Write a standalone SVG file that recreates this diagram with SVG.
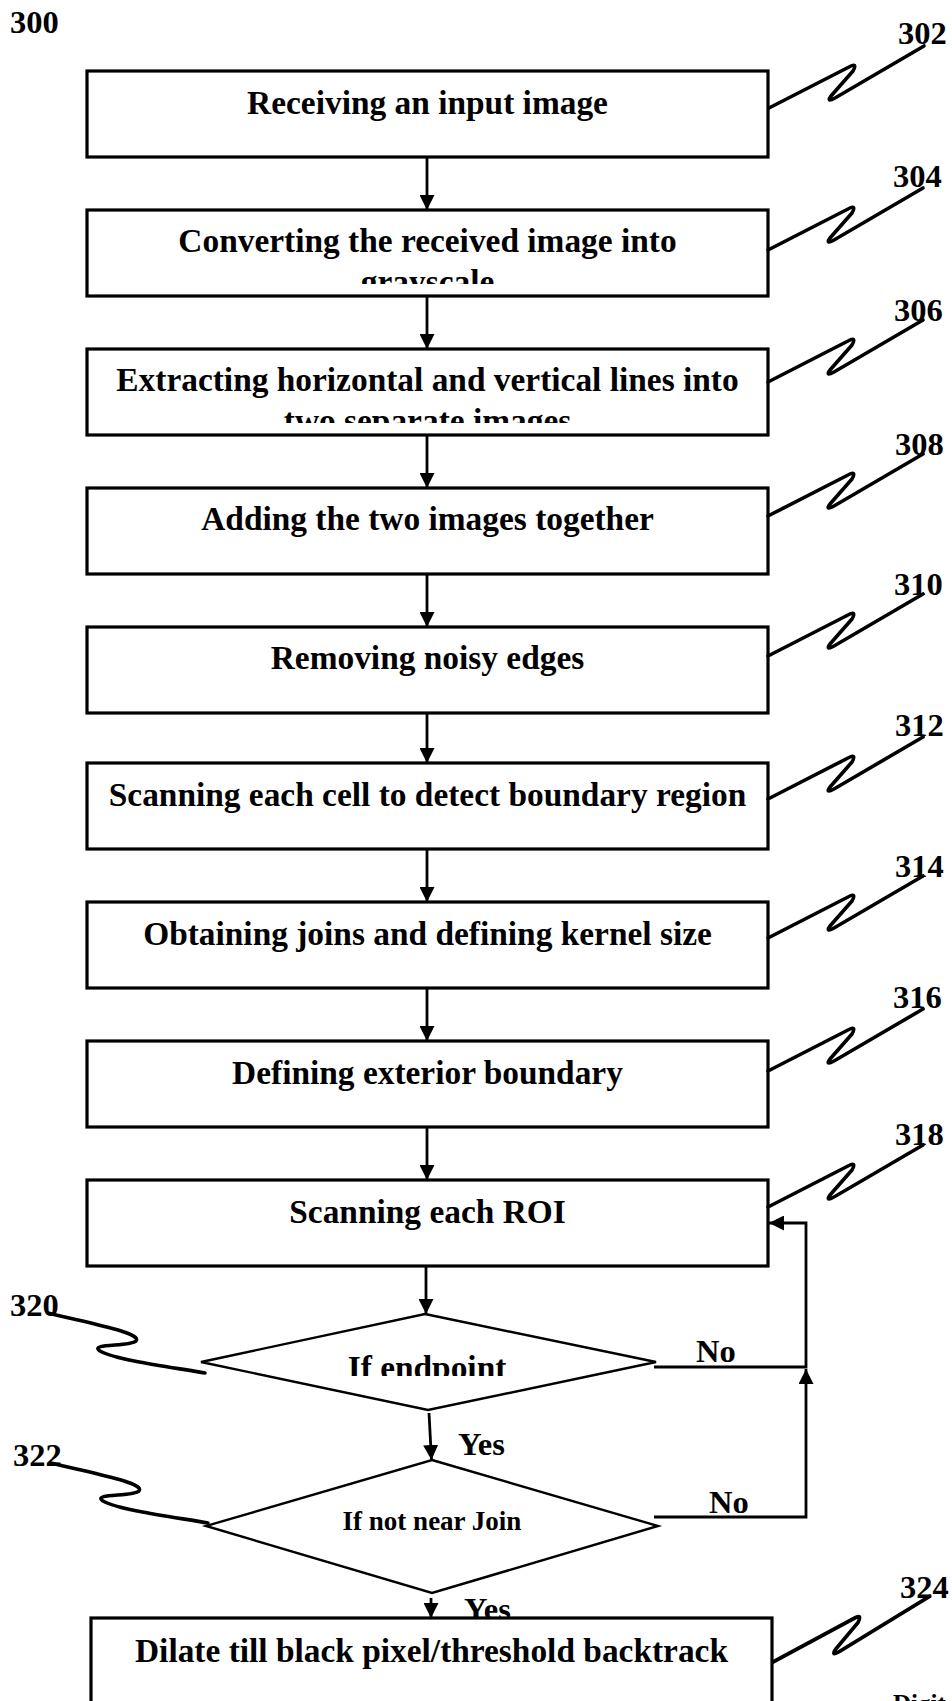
<svg xmlns="http://www.w3.org/2000/svg" width="952" height="1701" viewBox="0 0 952 1701">
<style>
.box{fill:#fff;stroke:#000;stroke-width:3.2}
.dia{fill:#fff;stroke:#000;stroke-width:2.4}
.t{font-family:"Liberation Serif","Times New Roman",serif;font-weight:bold;font-size:33.4px;fill:#000;text-anchor:middle}
.s{font-family:"Liberation Serif","Times New Roman",serif;font-weight:bold;font-size:27px;fill:#000;text-anchor:middle}
.lbl{font-family:"Liberation Serif","Times New Roman",serif;font-weight:bold;font-size:32.5px;fill:#000}
.ln{fill:none;stroke:#000;stroke-width:2.8}
.co{fill:none;stroke:#000;stroke-width:3.6;stroke-linecap:round;stroke-linejoin:round}
</style>
<defs>
<marker id="ah" viewBox="0 0 15 15" refX="15" refY="7.5" markerWidth="15" markerHeight="15" markerUnits="userSpaceOnUse" orient="auto">
<path d="M0,0 L15,7.5 L0,15 Z" fill="#000"/>
</marker>
<path id="zz" d="M0,0 L80,-41 Q89,-46 84,-37 L62,-12 Q57,-5 66,-10 L155,-62"/>
<path id="sq" d="M0,0 C40,10 95,20 88,28 C82,34 40,30 52,38 C70,48 130,55 157,60"/>
<clipPath id="c2"><rect x="87" y="210" width="681" height="74"/></clipPath>
<clipPath id="c3"><rect x="87" y="349" width="681" height="74"/></clipPath>
<clipPath id="c20"><rect x="200" y="1314" width="456" height="62"/></clipPath>
</defs>

<text class="lbl" x="10" y="33">300</text>

<g id="connectors">
<line class="ln" x1="427" y1="157" x2="427" y2="210" marker-end="url(#ah)"/>
<line class="ln" x1="427" y1="296" x2="427" y2="349" marker-end="url(#ah)"/>
<line class="ln" x1="427" y1="435" x2="427" y2="488" marker-end="url(#ah)"/>
<line class="ln" x1="427" y1="574" x2="427" y2="627" marker-end="url(#ah)"/>
<line class="ln" x1="427" y1="713" x2="427" y2="763" marker-end="url(#ah)"/>
<line class="ln" x1="427" y1="849" x2="427" y2="902" marker-end="url(#ah)"/>
<line class="ln" x1="427" y1="988" x2="427" y2="1041" marker-end="url(#ah)"/>
<line class="ln" x1="427" y1="1127" x2="427" y2="1180" marker-end="url(#ah)"/>
<line class="ln" x1="426" y1="1266" x2="426" y2="1314" marker-end="url(#ah)"/>
<line class="ln" x1="429" y1="1413" x2="431.5" y2="1460" marker-end="url(#ah)"/>
<line class="ln" x1="431" y1="1598" x2="431" y2="1618" marker-end="url(#ah)"/>
<polyline class="ln" points="654,1367 806,1367 806,1223 769,1223" marker-end="url(#ah)"/>
<polyline class="ln" points="654,1517 806,1517 806,1369" marker-end="url(#ah)"/>
<text class="lbl" x="696" y="1362">No</text>
<text class="lbl" x="709" y="1513">No</text>
<text class="lbl" x="458" y="1455">Yes</text>
<text class="lbl" x="464" y="1620">Yes</text>
</g>

<g id="n302"><rect class="box" x="87" y="71" width="681" height="86"/><text class="t" x="427.5" y="114">Receiving an input image</text></g>
<g id="n304"><rect class="box" x="87" y="210" width="681" height="86"/><g clip-path="url(#c2)"><text class="t" x="427.5" y="252">Converting the received image into</text><text class="t" x="427.5" y="293">grayscale</text></g></g>
<g id="n306"><rect class="box" x="87" y="349" width="681" height="86"/><g clip-path="url(#c3)"><text class="t" x="427.5" y="391">Extracting horizontal and vertical lines into</text><text class="t" x="427.5" y="432">two separate images</text></g></g>
<g id="n308"><rect class="box" x="87" y="488" width="681" height="86"/><text class="t" x="427.5" y="530">Adding the two images together</text></g>
<g id="n310"><rect class="box" x="87" y="627" width="681" height="86"/><text class="t" x="427.5" y="669">Removing noisy edges</text></g>
<g id="n312"><rect class="box" x="87" y="763" width="681" height="86"/><text class="t" x="427.5" y="806">Scanning each cell to detect boundary region</text></g>
<g id="n314"><rect class="box" x="87" y="902" width="681" height="86"/><text class="t" x="427.5" y="945">Obtaining joins and defining kernel size</text></g>
<g id="n316"><rect class="box" x="87" y="1041" width="681" height="86"/><text class="t" x="427.5" y="1084">Defining exterior boundary</text></g>
<g id="n318"><rect class="box" x="87" y="1180" width="681" height="86"/><text class="t" x="427.5" y="1223">Scanning each ROI</text></g>
<g id="n320"><polygon class="dia" points="425,1314 656,1362 428,1410 201,1362"/><g clip-path="url(#c20)"><text class="t" x="427" y="1379">If endpoint</text></g></g>
<g id="n322"><polygon class="dia" points="432,1460 658,1526 432,1593 206,1526"/><text class="s" x="432" y="1530">If not near Join</text></g>
<g id="n324"><rect class="box" x="91" y="1618" width="681" height="120"/><text class="t" x="431.5" y="1662">Dilate till black pixel/threshold backtrack</text></g>

<g id="callouts">
<use href="#zz" class="co" transform="translate(769,108)"/><text class="lbl" x="898" y="44">302</text>
<use href="#zz" class="co" transform="translate(768,250)"/><text class="lbl" x="893" y="187">304</text>
<use href="#zz" class="co" transform="translate(768,382)"/><text class="lbl" x="894" y="321">306</text>
<use href="#zz" class="co" transform="translate(768,516)"/><text class="lbl" x="895" y="455">308</text>
<use href="#zz" class="co" transform="translate(768,656)"/><text class="lbl" x="894" y="595">310</text>
<use href="#zz" class="co" transform="translate(768,799)"/><text class="lbl" x="895" y="736">312</text>
<use href="#zz" class="co" transform="translate(768,938)"/><text class="lbl" x="895" y="877">314</text>
<use href="#zz" class="co" transform="translate(768,1071)"/><text class="lbl" x="893" y="1008">316</text>
<use href="#zz" class="co" transform="translate(768,1207)"/><text class="lbl" x="895" y="1145">318</text>
<use href="#zz" class="co" transform="translate(773,1662) scale(1.01,1.06)"/><text class="lbl" x="900" y="1598">324</text>
<use href="#sq" class="co" transform="translate(48,1313)"/><text class="lbl" x="10" y="1316">320</text>
<use href="#sq" class="co" transform="translate(51,1463)"/><text class="lbl" x="13" y="1466">322</text>
</g>
<text class="lbl" x="893" y="1712" style="font-size:25px">Digit</text>
</svg>
